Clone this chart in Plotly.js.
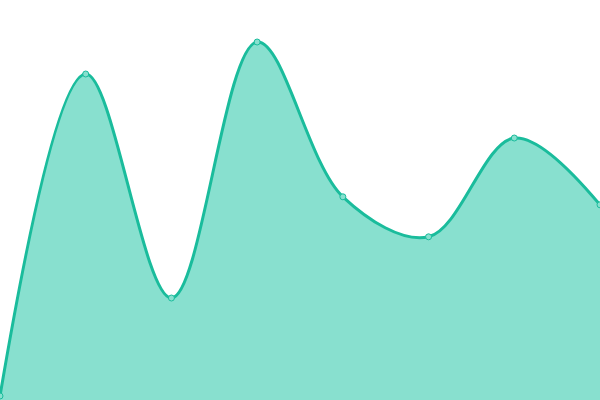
<!DOCTYPE html>
<html>
<head>
<meta charset="utf-8">
<script src="https://cdn.plot.ly/plotly-3.0.1.min.js"></script>
<style>
  html, body { margin: 0; padding: 0; background: #fff; }
  #chart { width: 600px; height: 400px; }
</style>
</head>
<body>
<div id="chart"></div>
<script>
// values (y axis 0..100)
var xSteps = [0, 1, 2, 3, 4, 5, 6, 7];
var seriesValues = [1, 81.5, 25.5, 89.5, 50.8, 40.8, 65.5, 48.8];

var lineColor = '#1abc9c';

var trace = {
	x: xSteps,
	y: seriesValues,
	type: 'scatter',
	mode: 'lines+markers',
	line: {shape: 'spline', smoothing: 1, color: lineColor, width: 3},
	fill: 'tozeroy',
	fillcolor: '#88e0cf',
	marker: {size: 6, color: '#88e0cf', line: {color: lineColor, width: 1}},
	hoverinfo: 'none'
};

var layout = {
	width: 600,
	height: 400,
	margin: {l: 0, r: 0, t: 0, b: 0, pad: 0},
	paper_bgcolor: '#fff',
	plot_bgcolor: '#fff',
	showlegend: false,
	xaxis: {range: [0, 7], visible: false, fixedrange: true},
	yaxis: {range: [0, 100], visible: false, fixedrange: true}
};

Plotly.newPlot('chart', [trace], layout, {displayModeBar: false, staticPlot: true});
</script>
</body>
</html>
